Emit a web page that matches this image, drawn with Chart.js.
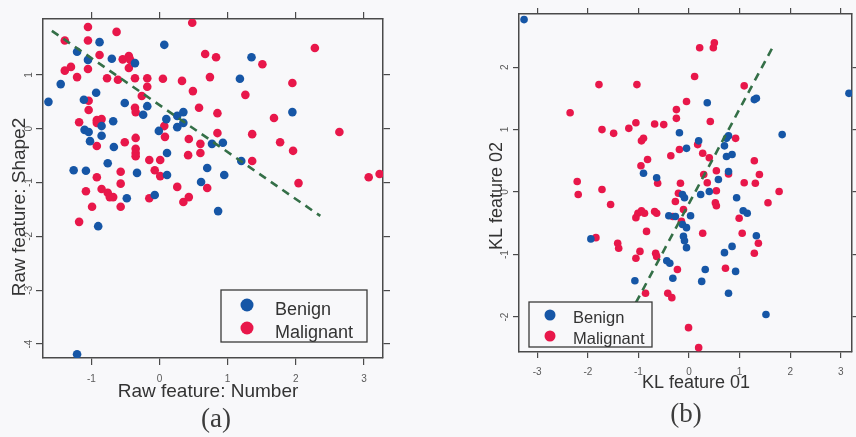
<!DOCTYPE html>
<html><head><meta charset="utf-8">
<script src="https://cdn.jsdelivr.net/npm/chart.js@4.4.1/dist/chart.umd.min.js"></script>
<style>
html,body{margin:0;padding:0;background:#f8f8fa;}
#wrap{position:relative;width:856px;height:437px;overflow:hidden;}
#ca{position:absolute;left:0;top:0;}
#cb{position:absolute;left:430px;top:0;}
.cap{position:absolute;font-family:"Liberation Serif","DejaVu Serif",serif;font-size:27px;color:#3c3c3c;transform:translate(-50%,-50%);white-space:nowrap;}
</style></head><body>
<div id="wrap">
<canvas id="ca" width="430" height="437"></canvas>
<canvas id="cb" width="426" height="437"></canvas>
<div class="cap" style="left:216px;top:418px">(a)</div>
<div class="cap" style="left:686px;top:413px">(b)</div>
</div>
<script>
// ---------- data: panel (a) ----------
const seriesNames = ['Benign', 'Malignant'];
const xTicksA = [-1, 0, 1, 2, 3];
const yTicksA = [-4, -3, -2, -1, 0, 1];
const xTitleA = 'Raw feature: Number';
const yTitleA = 'Raw feature: Shape2';
const benignA = [[-0.88,1.61],[0.07,1.56],[-1.21,1.43],[-1.05,1.28],[-0.70,1.30],[-0.36,1.22],[-1.45,0.83],[-0.93,0.67],[-1.63,0.50],[-1.11,0.54],[-0.51,0.48],[-0.18,0.42],[-0.24,0.26],[0.10,0.18],[0.26,0.24],[0.35,0.31],[0.26,0.03],[0.35,0.11],[-0.68,0.14],[-0.85,0.05],[-1.10,-0.02],[-1.04,-0.06],[-0.85,-0.13],[-1.02,-0.23],[-0.01,-0.04],[-0.67,-0.34],[0.11,-0.45],[-0.76,-0.64],[-1.26,-0.77],[-1.08,-0.78],[-0.33,-0.82],[0.11,-0.86],[0.77,-0.28],[0.61,-0.99],[0.70,-0.73],[-0.48,-1.29],[-0.07,-1.23],[0.86,-1.53],[1.35,1.33],[1.18,0.93],[1.95,0.31],[0.93,-0.26],[1.20,-0.60],[0.95,-0.86],[-0.90,-1.81],[-1.21,-4.19]];
const malignantA = [[0.48,1.97],[-1.05,1.89],[-0.63,1.80],[-1.05,1.64],[-1.39,1.64],[-0.88,1.37],[-0.54,1.29],[-0.45,1.35],[-0.43,1.28],[-0.45,1.13],[-1.39,1.08],[-1.30,1.15],[-1.05,1.11],[-1.21,0.96],[-0.77,0.94],[-0.61,0.91],[-0.36,0.94],[-0.18,0.94],[-0.18,0.78],[0.05,0.93],[0.33,0.89],[0.67,1.39],[0.83,1.33],[0.74,0.96],[0.49,0.70],[-0.26,0.61],[-1.04,0.52],[-1.04,0.35],[-0.36,0.39],[-0.35,0.31],[0.58,0.39],[0.85,0.29],[-1.18,0.12],[-0.92,0.16],[-0.85,0.18],[-0.92,0.11],[0.07,0.05],[0.08,-0.15],[-0.51,-0.25],[-0.35,-0.17],[-0.92,-0.32],[0.43,-0.19],[0.60,-0.28],[0.85,-0.08],[-0.35,-0.37],[-0.35,-0.45],[-0.35,-0.51],[-0.15,-0.58],[0.01,-0.58],[0.42,-0.49],[0.60,-0.45],[-0.57,-0.80],[-0.92,-0.90],[-0.07,-0.77],[0.01,-0.88],[-0.57,-1.02],[-0.85,-1.12],[-0.76,-1.19],[-0.73,-1.27],[-0.68,-1.27],[-1.08,-1.16],[-0.99,-1.45],[-0.57,-1.45],[-0.15,-1.29],[0.26,-1.08],[0.43,-1.27],[0.35,-1.36],[0.70,-1.10],[2.28,1.50],[1.51,1.20],[1.95,0.85],[1.26,0.63],[1.68,0.20],[1.36,-0.10],[2.64,-0.06],[1.77,-0.25],[1.96,-0.41],[1.36,-0.60],[2.04,-1.01],[3.07,-0.90],[3.23,-0.84],[-1.18,-1.73]];
const boundaryA = [[-1.58,1.82],[2.36,-1.62]];

// ---------- data: panel (b) ----------
const xTicksB = [-3, -2, -1, 0, 1, 2, 3];
const yTicksB = [-2, -1, 0, 1, 2];
const xTitleB = 'KL feature 01';
const yTitleB = 'KL feature 02';
const benignB = [[-3.26,2.76],[-0.90,0.30],[3.16,1.58],[0.36,1.43],[1.29,1.48],[1.33,1.50],[1.84,0.92],[-0.19,0.95],[0.78,0.90],[0.74,0.86],[0.70,0.74],[0.19,0.82],[-0.05,0.70],[0.74,0.57],[0.85,0.60],[-0.64,0.23],[0.78,0.33],[0.58,0.20],[0.40,0.01],[0.23,-0.04],[-0.09,-0.09],[-0.13,-0.04],[0.94,-0.09],[0.03,-0.38],[-0.40,-0.38],[-0.27,-0.39],[1.07,-0.30],[1.15,-0.34],[-1.94,-0.75],[-1.07,-1.42],[-0.13,-0.52],[-0.05,-0.57],[-0.11,-0.71],[-0.09,-0.78],[-0.05,-0.89],[-0.44,-1.10],[-0.38,-1.14],[-0.32,-1.38],[0.25,-1.43],[0.32,-1.24],[0.70,-0.97],[0.85,-0.87],[0.92,-1.27],[0.78,-1.62],[1.33,-0.70],[1.52,-1.96]];
const malignantB = [[-1.78,1.72],[-1.03,1.72],[-2.35,1.27],[-1.72,1.00],[-1.49,0.94],[-1.19,1.02],[-1.05,1.11],[-0.94,0.82],[-0.90,0.86],[-0.82,0.52],[-0.95,0.42],[-2.21,0.17],[-2.19,-0.04],[-1.72,0.04],[-1.55,-0.20],[-1.01,-0.34],[-0.94,-0.30],[0.21,2.31],[0.48,2.31],[0.50,2.39],[0.11,1.85],[1.09,1.70],[-0.05,1.45],[-0.25,1.32],[-0.25,1.18],[-0.68,1.09],[-0.50,1.08],[0.42,1.13],[0.92,0.86],[-0.19,0.68],[0.17,0.76],[0.27,0.62],[0.40,0.55],[-0.36,0.58],[1.29,0.50],[0.54,0.34],[0.78,0.29],[1.39,0.28],[0.29,0.28],[0.36,0.15],[-0.62,0.14],[-0.17,0.14],[1.09,0.15],[1.31,0.14],[1.78,0.01],[-0.21,-0.02],[0.54,0.02],[-0.27,-0.15],[0.52,-0.17],[0.54,-0.22],[1.56,-0.17],[-0.68,-0.31],[-0.64,-0.34],[-0.32,-0.39],[-0.11,-0.28],[0.99,-0.42],[-1.05,-0.41],[-0.88,-0.34],[-1.84,-0.73],[-1.41,-0.82],[-1.39,-0.90],[-0.97,-0.95],[-1.05,-1.06],[-0.84,-0.63],[-0.86,-1.62],[0.27,-0.66],[1.05,-0.66],[1.37,-0.82],[1.29,-0.98],[-0.66,-0.98],[-0.64,-1.03],[-0.23,-1.24],[0.72,-1.22],[-0.42,-1.62],[-0.34,-1.69],[-0.01,-2.17],[0.19,-2.49],[-0.15,-0.47]];
const boundaryB = [[-1.05,-1.77],[1.64,2.30]];

// ---------- styling ----------
const FONT = "'Liberation Sans', Arial, sans-serif";
const FRAME = '#4a4a4a';
const BLUE = '#1656a6';
const RED = '#e8174a';
const GREEN = '#346f47';
const BG = '#f8f8fa';

const toPts = arr => arr.map(p => ({x: p[0], y: p[1]}));

// legend drawn as a framed box inside the plot, as in the figure
const boxLegend = {
  id: 'boxLegend',
  afterDatasetsDraw(chart, args, o) {
    const ctx = chart.ctx;
    ctx.save();
    ctx.fillStyle = BG;
    ctx.fillRect(o.x, o.y, o.w, o.h);
    ctx.strokeStyle = '#3a3a3a';
    ctx.lineWidth = 1.3;
    ctx.strokeRect(o.x, o.y, o.w, o.h);
    const items = chart.data.datasets.filter(d => d.inLegend);
    items.forEach((d, i) => {
      const cy = o.rows[i];
      ctx.beginPath();
      ctx.arc(o.markX, cy, o.markR, 0, Math.PI * 2);
      ctx.fillStyle = d.backgroundColor;
      ctx.fill();
      ctx.fillStyle = '#333';
      ctx.font = o.fontSize + 'px ' + FONT;
      ctx.textBaseline = 'middle';
      ctx.textAlign = 'left';
      ctx.fillText(d.label, o.textX, cy + o.textDy);
    });
    ctx.restore();
  }
};

// axis titles placed where the figure has them (slightly off-centre)
const axisTitles = {
  id: 'axisTitles',
  afterDraw(chart, args, o) {
    const ctx = chart.ctx;
    ctx.save();
    ctx.fillStyle = '#333';
    ctx.font = o.size + 'px ' + FONT;
    ctx.textAlign = 'center';
    ctx.textBaseline = 'middle';
    ctx.fillText(o.xText, o.xPos[0], o.xPos[1]);
    ctx.translate(o.yPos[0], o.yPos[1]);
    ctx.rotate(-Math.PI / 2);
    ctx.fillText(o.yText, 0, 0);
    ctx.restore();
  }
};

function makeChart(id, c) {
  const fixTicks = vals => s => { s.ticks = vals.map(v => ({value: v})); };
  const grid = {display: true, drawOnChartArea: false, drawTicks: true, tickLength: c.tickLen, color: FRAME, tickColor: FRAME, lineWidth: 1.2};
  const border = {display: true, color: FRAME, width: 1.5};
  const tickFont = {family: FONT, size: 10};
  return new Chart(document.getElementById(id), {
    type: 'scatter',
    data: {
      datasets: [
        {label: 'boundary', data: toPts(c.line), showLine: true, borderColor: GREEN, borderWidth: 2.6, borderDash: [8, 6], pointRadius: 0, fill: false, order: -1},
        {label: seriesNames[0], inLegend: true, data: toPts(c.benign), backgroundColor: BLUE, borderWidth: 0, pointRadius: c.r},
        {label: seriesNames[1], inLegend: true, data: toPts(c.malignant), backgroundColor: RED, borderWidth: 0, pointRadius: c.r}
      ]
    },
    options: {
      responsive: false, animation: false, devicePixelRatio: 1,
      layout: {padding: c.pad},
      plugins: {legend: {display: false}, tooltip: {enabled: false}, boxLegend: c.legend, axisTitles: c.titles},
      scales: {
        x: {type: 'linear', axis: 'x', position: 'bottom', min: c.xMin, max: c.xMax,
            afterBuildTicks: fixTicks(c.xTicks), grid, border,
            ticks: {font: tickFont, color: '#5a5a5a', padding: c.xTickPad, maxRotation: 0, minRotation: 0, callback: v => String(v)},
            afterFit: s => { s.height = c.xH; }},
        x2: {type: 'linear', axis: 'x', position: 'top', min: c.xMin, max: c.xMax,
            afterBuildTicks: fixTicks(c.xTicks), grid, border, ticks: {display: false},
            afterFit: s => { s.height = c.x2H; }},
        y: {type: 'linear', axis: 'y', position: 'left', min: c.yMin, max: c.yMax,
            afterBuildTicks: fixTicks(c.yTicks), grid, border,
            ticks: {font: tickFont, color: '#5a5a5a', padding: c.yTickPad, minRotation: 90, maxRotation: 90, crossAlign: 'center', callback: v => String(v)},
            afterFit: s => { s.width = c.yW; }},
        y2: {type: 'linear', axis: 'y', position: 'right', min: c.yMin, max: c.yMax,
            afterBuildTicks: fixTicks(c.yTicks), grid, border, ticks: {display: false},
            afterFit: s => { s.width = c.y2W; }}
      }
    },
    plugins: [boxLegend, axisTitles]
  });
}

makeChart('ca', {
  benign: benignA, malignant: malignantA, line: boundaryA,
  xTicks: xTicksA, yTicks: yTicksA,
  xMin: -1.71, xMax: 3.28, yMin: -4.26, yMax: 2.04,
  r: 4.3, tickLen: 7,
  pad: {left: 0, top: 9, right: 37, bottom: 29},
  xH: 50, x2H: 10, yW: 43, y2W: 10,
  xTickPad: 8, yTickPad: 2.5,
  titles: {xText: xTitleA, yText: yTitleA, size: 19, xPos: [208, 392], yPos: [20, 207]},
  legend: {x: 221, y: 290, w: 146, h: 52, markX: 247, markR: 6.5, rows: [305, 328], textX: 275, textDy: 5, fontSize: 18}
});

makeChart('cb', {
  benign: benignB, malignant: malignantB, line: boundaryB,
  xTicks: xTicksB, yTicks: yTicksB,
  xMin: -3.36, xMax: 3.22, yMin: -2.56, yMax: 2.85,
  r: 3.8, tickLen: 6,
  pad: {left: 0, top: 6, right: 0, bottom: 40},
  xH: 45, x2H: 8, yW: 89, y2W: 3,
  xTickPad: 8, yTickPad: 3.5,
  titles: {xText: xTitleB, yText: yTitleB, size: 18, xPos: [266, 383], yPos: [67, 196]},
  legend: {x: 99, y: 302, w: 123, h: 45, markX: 120, markR: 5.5, rows: [315, 336], textX: 143, textDy: 3, fontSize: 16.5}
});
</script>
</body></html>
